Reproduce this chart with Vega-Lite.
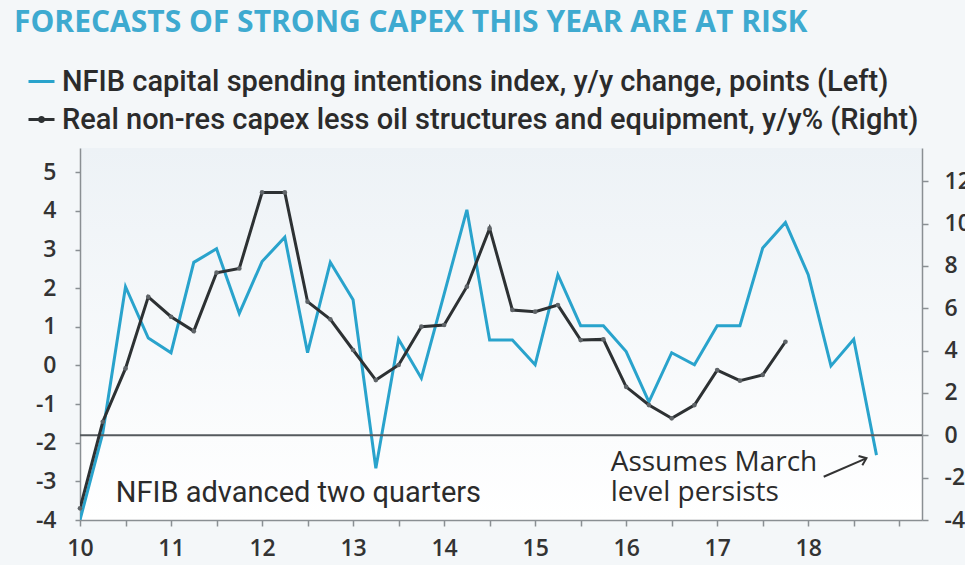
{
  "$schema": "https://vega.github.io/schema/vega-lite/v6.json",
  "width": 842,
  "height": 372,
  "autosize": {"type": "none"},
  "padding": {"left": 80, "top": 148, "right": 43, "bottom": 45},
  "background": "#f4f7f9",
  "title": {
    "text": "FORECASTS OF STRONG CAPEX THIS YEAR ARE AT RISK",
    "anchor": "start",
    "frame": "group",
    "dx": -66,
    "offset": 29,
    "font": "Open Sans",
    "fontSize": 30,
    "fontWeight": "bold",
    "color": "#3eaad0"
  },
  "config": {
    "view": {
      "stroke": null,
      "fill": {"gradient": "linear", "x1": 0, "y1": 0, "x2": 0, "y2": 1, "stops": [{"offset": 0, "color": "#edf2f6"}, {"offset": 1, "color": "#ffffff"}]}
    },
    "axis": {
      "grid": false,
      "domainColor": "#8a8f93",
      "domainWidth": 1.5,
      "tickColor": "#8a8f93",
      "tickWidth": 1.5,
      "tickSize": 6,
      "labelFont": "Open Sans",
      "labelFontSize": 23,
      "labelFontWeight": 600,
      "labelColor": "#333333",
      "title": null
    }
  },
  "datasets": {
    "nfib": [
      {"date": 2010.0, "value": -4.0},
      {"date": 2010.25, "value": -1.75},
      {"date": 2010.5, "value": 2.04},
      {"date": 2010.75, "value": 0.71},
      {"date": 2011.0, "value": 0.33},
      {"date": 2011.25, "value": 2.67},
      {"date": 2011.5, "value": 3.02},
      {"date": 2011.75, "value": 1.35},
      {"date": 2012.0, "value": 2.69},
      {"date": 2012.25, "value": 3.32},
      {"date": 2012.5, "value": 0.33},
      {"date": 2012.75, "value": 2.67},
      {"date": 2013.0, "value": 1.7},
      {"date": 2013.25, "value": -2.66},
      {"date": 2013.5, "value": 0.68},
      {"date": 2013.75, "value": -0.33},
      {"date": 2014.0, "value": 1.85},
      {"date": 2014.25, "value": 4.03},
      {"date": 2014.5, "value": 0.66},
      {"date": 2014.75, "value": 0.66},
      {"date": 2015.0, "value": 0.02},
      {"date": 2015.25, "value": 2.35},
      {"date": 2015.5, "value": 1.03},
      {"date": 2015.75, "value": 1.03},
      {"date": 2016.0, "value": 0.36},
      {"date": 2016.25, "value": -0.94},
      {"date": 2016.5, "value": 0.33},
      {"date": 2016.75, "value": 0.02},
      {"date": 2017.0, "value": 1.03},
      {"date": 2017.25, "value": 1.03},
      {"date": 2017.5, "value": 3.04},
      {"date": 2017.75, "value": 3.7},
      {"date": 2018.0, "value": 2.35},
      {"date": 2018.25, "value": -0.01},
      {"date": 2018.5, "value": 0.68},
      {"date": 2018.75, "value": -2.32}
    ],
    "capex": [
      {"date": 2010.0, "value": -3.45},
      {"date": 2010.25, "value": 0.64},
      {"date": 2010.5, "value": 3.16},
      {"date": 2010.75, "value": 6.54},
      {"date": 2011.0, "value": 5.6},
      {"date": 2011.25, "value": 4.92},
      {"date": 2011.5, "value": 7.68},
      {"date": 2011.75, "value": 7.88},
      {"date": 2012.0, "value": 11.47},
      {"date": 2012.25, "value": 11.47},
      {"date": 2012.5, "value": 6.31},
      {"date": 2012.75, "value": 5.48},
      {"date": 2013.0, "value": 4.03},
      {"date": 2013.25, "value": 2.61},
      {"date": 2013.5, "value": 3.32},
      {"date": 2013.75, "value": 5.13},
      {"date": 2014.0, "value": 5.21},
      {"date": 2014.25, "value": 7.02},
      {"date": 2014.5, "value": 9.77},
      {"date": 2014.75, "value": 5.92},
      {"date": 2015.0, "value": 5.84},
      {"date": 2015.25, "value": 6.15},
      {"date": 2015.5, "value": 4.5},
      {"date": 2015.75, "value": 4.53},
      {"date": 2016.0, "value": 2.29},
      {"date": 2016.25, "value": 1.43},
      {"date": 2016.5, "value": 0.8},
      {"date": 2016.75, "value": 1.43},
      {"date": 2017.0, "value": 3.08},
      {"date": 2017.25, "value": 2.58},
      {"date": 2017.5, "value": 2.85},
      {"date": 2017.75, "value": 4.42}
    ],
    "one": [{"n": 1}]
  },
  "layer": [
    {
      "layer": [
        {
          "data": {"name": "nfib"},
          "mark": {"type": "line", "strokeWidth": 3, "clip": true},
          "encoding": {
            "x": {
              "field": "date", "type": "quantitative",
              "scale": {"domain": [2010, 2019.25], "nice": false, "zero": false},
              "axis": {
                "values": [2010, 2010.25, 2010.5, 2010.75, 2011, 2011.25, 2011.5, 2011.75, 2012, 2012.25, 2012.5, 2012.75, 2013, 2013.25, 2013.5, 2013.75, 2014, 2014.25, 2014.5, 2014.75, 2015, 2015.25, 2015.5, 2015.75, 2016, 2016.25, 2016.5, 2016.75, 2017, 2017.25, 2017.5, 2017.75, 2018, 2018.25, 2018.5, 2018.75, 2019, 2019.25],
                "labelExpr": "(datum.value % 1 == 0 && datum.value < 2019) ? format(datum.value - 2000, 'd') : ''",
                "labelOverlap": false,
                "labelFlush": false,
                "labelFontSize": 23,
                "labelPadding": 11
              }
            },
            "y": {
              "field": "value", "type": "quantitative",
              "scale": {"domain": [-4, 5.63], "nice": false, "zero": false},
              "axis": {"orient": "left", "values": [-4, -3, -2, -1, 0, 1, 2, 3, 4, 5], "labelExpr": "'' + datum.value", "labelPadding": 19, "tickSize": 5}
            },
            "color": {
              "datum": "NFIB capital spending intentions index, y/y change, points (Left)",
              "scale": {"range": ["#29a3cc"]},
              "legend": {
                "orient": "none", "legendX": -53, "legendY": -81, "title": null, "padding": 0,
                "symbolType": "stroke", "symbolSize": 676, "symbolStrokeWidth": 3,
                "labelFont": "Roboto", "labelFontSize": 29, "labelFontWeight": 500, "labelColor": "#2b2b2b", "labelLimit": 1000, "labelOffset": 6
              }
            }
          }
        },
        {
          "data": {"name": "one"},
          "mark": {"type": "text", "font": "Roboto", "fontSize": 29, "color": "#2b2b2b", "align": "center", "baseline": "middle"},
          "encoding": {
            "x": {"datum": 2012.4, "type": "quantitative"},
            "y": {"datum": -3.3, "type": "quantitative"},
            "text": {"value": "NFIB advanced two quarters"}
          }
        },
        {
          "data": {"name": "one"},
          "mark": {"type": "text", "font": "Open Sans", "fontSize": 28, "lineHeight": 30, "color": "#2b2b2b", "align": "left", "baseline": "middle"},
          "encoding": {
            "x": {"datum": 2015.83, "type": "quantitative"},
            "y": {"datum": -2.52, "type": "quantitative"},
            "text": {"value": ["Assumes March", "level persists"]}
          }
        },
        {
          "data": {"name": "one"},
          "mark": {"type": "rule", "color": "#333333", "strokeWidth": 2},
          "encoding": {
            "x": {"datum": 2018.17, "type": "quantitative"},
            "y": {"datum": -2.88, "type": "quantitative"},
            "x2": {"datum": 2018.63},
            "y2": {"datum": -2.41}
          }
        },
        {
          "data": {"name": "one"},
          "mark": {"type": "point", "shape": "M-1,1.3L0,0L1,1.3", "filled": false, "size": 100, "strokeWidth": 2, "color": "#333333", "angle": 68, "opacity": 1},
          "encoding": {
            "x": {"datum": 2018.64, "type": "quantitative"},
            "y": {"datum": -2.4, "type": "quantitative"}
          }
        }
      ]
    },
    {
      "layer": [
        {
          "data": {"name": "one"},
          "mark": {"type": "rule", "color": "#555a5e", "strokeWidth": 2},
          "encoding": {
            "y": {"datum": 0, "type": "quantitative"}
          }
        },
        {
          "data": {"name": "capex"},
          "mark": {"type": "line", "strokeWidth": 3, "clip": true},
          "encoding": {
            "x": {"field": "date", "type": "quantitative"},
            "y": {
              "field": "value", "type": "quantitative",
              "scale": {"domain": [-4, 13.57], "nice": false, "zero": false},
              "axis": {"orient": "right", "values": [-4, -2, 0, 2, 4, 6, 8, 10, 12], "labelExpr": "'' + datum.value", "labelPadding": 16, "tickSize": 6}
            },
            "stroke": {
              "datum": "Real non-res capex less oil structures and equipment, y/y% (Right)",
              "scale": {"range": ["#2d3133"]},
              "legend": {
                "orient": "none", "legendX": -53, "legendY": -43, "title": null, "padding": 0,
                "symbolType": "M-1,0L1,0M-0.16,0A0.16,0.16,0,1,1,0.16,0A0.16,0.16,0,1,1,-0.16,0", "symbolSize": 676, "symbolStrokeWidth": 3,
                "labelFont": "Roboto", "labelFontSize": 29, "labelFontWeight": 500, "labelColor": "#2b2b2b", "labelLimit": 1000, "labelOffset": 6
              }
            }
          }
        },
        {
          "data": {"name": "capex"},
          "mark": {"type": "circle", "size": 22, "color": "#5f6468", "opacity": 1},
          "encoding": {
            "x": {"field": "date", "type": "quantitative"},
            "y": {"field": "value", "type": "quantitative"}
          }
        }
      ]
    }
  ],
  "resolve": {"scale": {"y": "independent"}}
}
